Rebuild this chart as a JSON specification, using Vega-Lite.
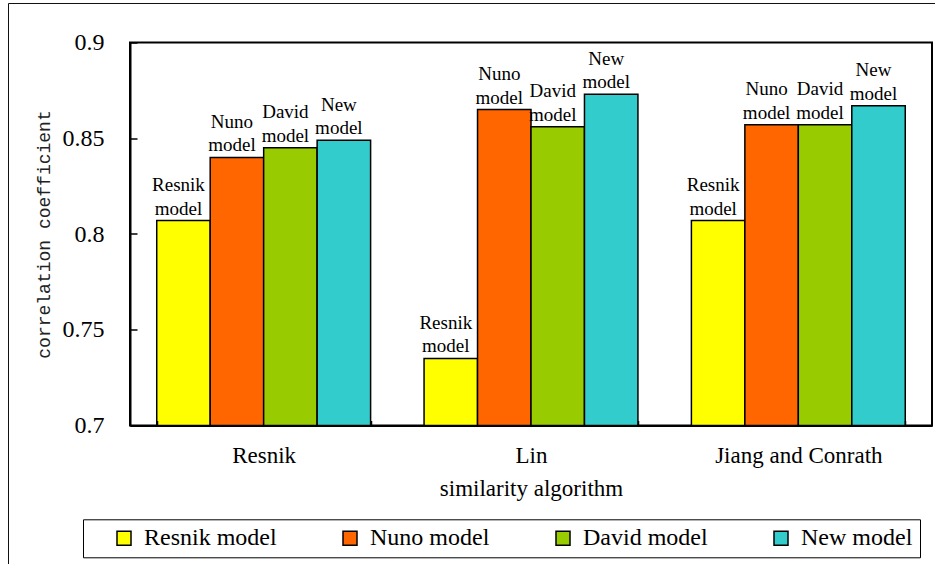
{
  "$schema": "https://vega.github.io/schema/vega-lite/v6.json",
  "width": 802,
  "height": 383,
  "autosize": {"type": "none"},
  "padding": {"left": 130, "top": 42.5, "right": 3, "bottom": 138.5},
  "background": "white",
  "data": {
    "values": [
      {"algorithm": "Resnik", "model": "Resnik model", "value": 0.807},
      {"algorithm": "Resnik", "model": "Nuno model", "value": 0.840},
      {"algorithm": "Resnik", "model": "David model", "value": 0.845},
      {"algorithm": "Resnik", "model": "New model", "value": 0.849},
      {"algorithm": "Lin", "model": "Resnik model", "value": 0.735},
      {"algorithm": "Lin", "model": "Nuno model", "value": 0.865},
      {"algorithm": "Lin", "model": "David model", "value": 0.856},
      {"algorithm": "Lin", "model": "New model", "value": 0.873},
      {"algorithm": "Jiang and Conrath", "model": "Resnik model", "value": 0.807},
      {"algorithm": "Jiang and Conrath", "model": "Nuno model", "value": 0.857},
      {"algorithm": "Jiang and Conrath", "model": "David model", "value": 0.857},
      {"algorithm": "Jiang and Conrath", "model": "New model", "value": 0.867}
    ]
  },
  "encoding": {
    "x": {
      "field": "algorithm",
      "type": "nominal",
      "sort": ["Resnik", "Lin", "Jiang and Conrath"],
      "scale": {"paddingInner": 0.2, "paddingOuter": 0.1},
      "axis": {
        "title": "similarity algorithm",
        "labelAngle": 0,
        "labelFont": "Liberation Serif",
        "labelFontSize": 23,
        "labelColor": "black",
        "labelPadding": 24,
        "tickBand": "extent",
        "tickSize": -5,
        "tickColor": "black",
        "tickWidth": 1.5,
        "domainColor": "black",
        "domainWidth": 2,
        "titleFont": "Liberation Serif",
        "titleFontSize": 23,
        "titleFontWeight": "normal",
        "titleColor": "black",
        "titlePadding": 10,
        "zindex": 2
      }
    },
    "xOffset": {
      "field": "model",
      "type": "nominal",
      "sort": ["Resnik model", "Nuno model", "David model", "New model"],
      "scale": {"paddingInner": 0, "paddingOuter": 0}
    },
    "y": {
      "field": "value",
      "type": "quantitative",
      "scale": {"domain": [0.7, 0.9], "nice": false, "zero": false},
      "axis": {
        "title": "correlation coefficient",
        "values": [0.7, 0.75, 0.8, 0.85, 0.9],
        "format": ".2~f",
        "grid": false,
        "labelFont": "Liberation Serif",
        "labelFontSize": 24,
        "labelColor": "black",
        "labelPadding": 33,
        "tickSize": -7,
        "tickColor": "black",
        "tickWidth": 1.5,
        "domainColor": "black",
        "domainWidth": 2,
        "titleFont": "Liberation Mono",
        "titleFontSize": 18,
        "titleFontWeight": "normal",
        "titleColor": "#222222",
        "titlePadding": 9,
        "zindex": 2
      }
    }
  },
  "layer": [
    {
      "mark": {"type": "bar", "stroke": "black", "strokeWidth": 1.5, "clip": true},
      "encoding": {
        "y2": {"datum": 0.7},
        "color": {
          "field": "model",
          "type": "nominal",
          "sort": ["Resnik model", "Nuno model", "David model", "New model"],
          "scale": {
            "domain": ["Resnik model", "Nuno model", "David model", "New model"],
            "range": ["#FFFF00", "#FF6600", "#99CC00", "#33CCCC"]
          },
          "legend": {
            "orient": "none",
            "legendX": -47,
            "legendY": 476.8,
            "direction": "horizontal",
            "columns": 4,
            "title": " ",
            "titleOrient": "left",
            "titleFont": "Liberation Serif",
            "titleFontSize": 23,
            "titlePadding": 22,
            "symbolType": "square",
            "symbolSize": 196,
            "symbolStrokeColor": "black",
            "symbolStrokeWidth": 1.5,
            "symbolOpacity": 1,
            "symbolFillOpacity": 1,
            "labelFont": "Liberation Serif",
            "labelFontSize": 24,
            "labelColor": "black",
            "labelOffset": 8,
            "columnPadding": 61,
            "padding": 7,
            "strokeColor": "black"
          }
        }
      }
    },
    {
      "mark": {
        "type": "text",
        "lineBreak": " ",
        "baseline": "bottom",
        "align": "center",
        "dx": -5,
        "dy": -25.5,
        "font": "Liberation Serif",
        "fontSize": 19,
        "lineHeight": 23.5,
        "color": "black"
      },
      "encoding": {"text": {"field": "model"}}
    },
    {
      "mark": {"type": "point", "opacity": 0},
      "encoding": {
        "shape": {
          "datum": "frame",
          "type": "nominal",
          "legend": {
            "orient": "none",
            "legendX": -122,
            "legendY": -39.5,
            "title": null,
            "padding": 480,
            "strokeColor": "#111111",
            "symbolOpacity": 0,
            "labelOpacity": 0
          }
        }
      }
    }
  ],
  "config": {"view": {"stroke": "black", "strokeWidth": 2}}
}
